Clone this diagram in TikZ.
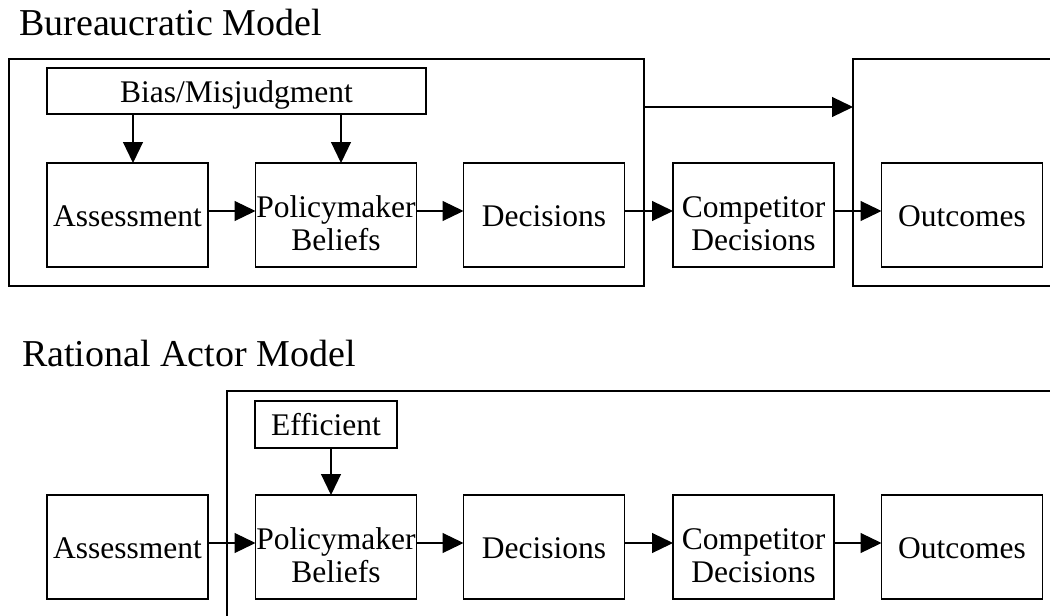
\documentclass[tikz,border=0pt]{standalone}
\usepackage{fontspec}
\setmainfont{Liberation Serif}
\usetikzlibrary{arrows.meta}
\begin{document}
\begin{tikzpicture}[x=1pt,y=-1pt,
  box/.style={draw, line width=1.2pt, inner sep=0pt, outer sep=0pt,
    minimum width=161pt, minimum height=104pt,
    font=\fontsize{31.5}{33}\selectfont, text height=22pt, text depth=0pt},
  twobox/.style={box, align=center, text height=70pt, text depth=0pt},
  smallbox/.style={box, minimum height=46pt},
  title/.style={anchor=base west, inner sep=0pt, font=\fontsize{38}{40}\selectfont},
  frame/.style={line width=1.4pt},
  arr/.style={line width=1.2pt, -{Triangle[length=21pt,width=20pt]}}]
\useasboundingbox (0,0) rectangle (1050,616);

% ---------- Bureaucratic model ----------
\node[title] (t1) at (19,35) {Bureaucratic Model};
\draw[frame] (9,59) rectangle (644,286);
\draw[frame] (1050,59) -- (853,59) -- (853,286) -- (1050,286);

\node[smallbox, minimum width=379pt] (bias) at (236.5,91) {Bias/Misjudgment};
\node[box] (a1) at (127.5,215) {Assessment};
\node[twobox] (p1) at (336,215) {Policymaker\\Beliefs};
\node[box] (d1) at (544,215) {Decisions};
\node[twobox] (c1) at (753.5,215) {Competitor\\Decisions};
\node[box] (o1) at (962,215) {Outcomes};

\coordinate (xa) at (133,0);
\coordinate (xp) at (341,0);
\coordinate (f1r) at (644,107);
\coordinate (f2l) at (853,107);

\draw[arr] (bias.south -| xa) -- (a1.north -| xa);
\draw[arr] (bias.south -| xp) -- (p1.north -| xp);
\draw[arr] ([yshift=4pt]a1.east) -- ([yshift=4pt]p1.west);
\draw[arr] ([yshift=4pt]p1.east) -- ([yshift=4pt]d1.west);
\draw[arr] ([yshift=4pt]d1.east) -- ([yshift=4pt]c1.west);
\draw[arr] ([yshift=4pt]c1.east) -- ([yshift=4pt]o1.west);
\draw[arr] (f1r) -- (f2l);

% ---------- Rational actor model ----------
\node[title] (t2) at (22,366) {Rational Actor Model};
\draw[frame] (227,616) -- (227,391) -- (1050,391);

\node[smallbox, minimum width=142pt, minimum height=47pt] (eff) at (326,424.5) {Efficient};
\node[box] (a2) at (127.5,547) {Assessment};
\node[twobox] (p2) at (336,547) {Policymaker\\Beliefs};
\node[box] (d2) at (544,547) {Decisions};
\node[twobox] (c2) at (753.5,547) {Competitor\\Decisions};
\node[box] (o2) at (962,547) {Outcomes};

\coordinate (xe) at (331,0);
\draw[arr] (eff.south -| xe) -- (p2.north -| xe);
\draw[arr] ([yshift=4pt]a2.east) -- ([yshift=4pt]p2.west);
\draw[arr] ([yshift=4pt]p2.east) -- ([yshift=4pt]d2.west);
\draw[arr] ([yshift=4pt]d2.east) -- ([yshift=4pt]c2.west);
\draw[arr] ([yshift=4pt]c2.east) -- ([yshift=4pt]o2.west);
\end{tikzpicture}
\end{document}
